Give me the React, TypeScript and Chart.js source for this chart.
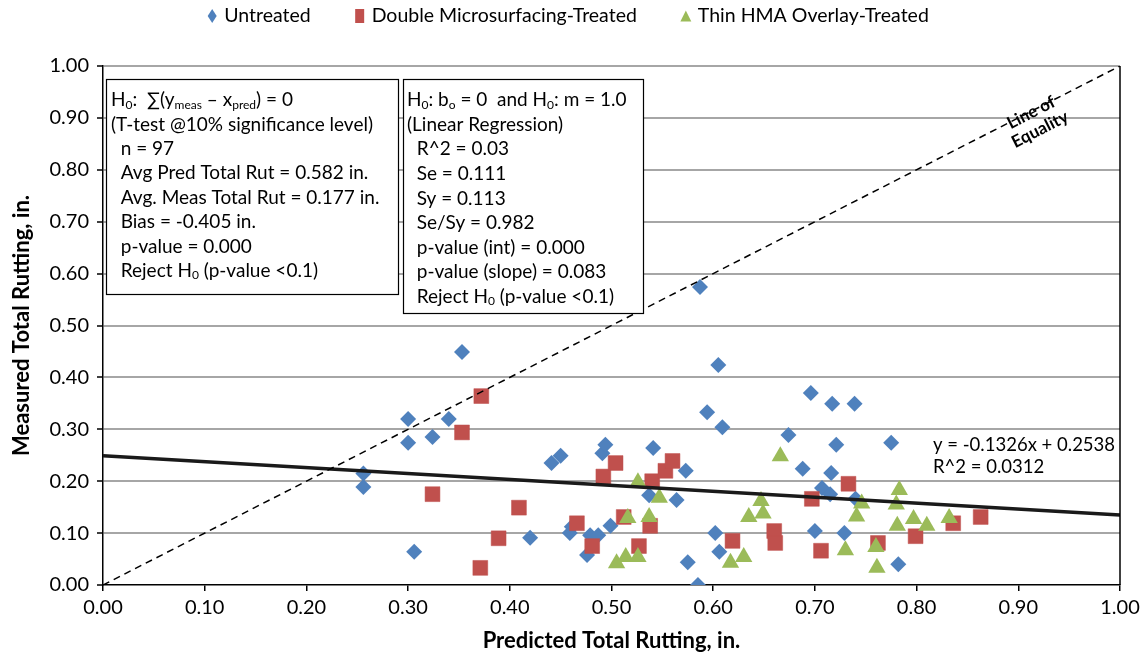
import { useEffect, useRef } from 'react';
import { Chart, registerables } from 'chart.js';

Chart.register(...registerables);

// ---------------- DATA ----------------
const SERIES_NAMES = ['Untreated', 'Double Microsurfacing-Treated', 'Thin HMA Overlay-Treated'];

// [predicted, measured]
const untreatedPts: [number, number][] = [
  [0.256, 0.215], [0.256, 0.189], [0.300, 0.274], [0.300, 0.320], [0.306, 0.064],
  [0.324, 0.285], [0.340, 0.320], [0.353, 0.449], [0.420, 0.091], [0.441, 0.235],
  [0.450, 0.249], [0.459, 0.100], [0.461, 0.112], [0.476, 0.058], [0.479, 0.096],
  [0.487, 0.096], [0.491, 0.254], [0.494, 0.270], [0.499, 0.114], [0.537, 0.173],
  [0.541, 0.264], [0.564, 0.164], [0.573, 0.220], [0.575, 0.044], [0.585, 0.000],
  [0.587, 0.574], [0.594, 0.333], [0.602, 0.100], [0.605, 0.424], [0.606, 0.064],
  [0.609, 0.304], [0.674, 0.289], [0.688, 0.224], [0.696, 0.370], [0.700, 0.104],
  [0.707, 0.187], [0.715, 0.175], [0.716, 0.216], [0.717, 0.349], [0.721, 0.270],
  [0.729, 0.100], [0.739, 0.349], [0.740, 0.166], [0.775, 0.274], [0.782, 0.040],
];

const microPts: [number, number][] = [
  [0.324, 0.175], [0.353, 0.294], [0.371, 0.033], [0.372, 0.364], [0.389, 0.090],
  [0.409, 0.149], [0.466, 0.119], [0.481, 0.075], [0.492, 0.209], [0.504, 0.235],
  [0.512, 0.131], [0.527, 0.075], [0.538, 0.114], [0.540, 0.200], [0.553, 0.220],
  [0.560, 0.239], [0.619, 0.085], [0.660, 0.104], [0.661, 0.081], [0.697, 0.166],
  [0.706, 0.066], [0.733, 0.195], [0.762, 0.081], [0.799, 0.094], [0.836, 0.119],
  [0.863, 0.131],
];

const hmaPts: [number, number][] = [
  [0.505, 0.042], [0.514, 0.054], [0.516, 0.129], [0.526, 0.054], [0.526, 0.198],
  [0.537, 0.131], [0.547, 0.168], [0.617, 0.043], [0.630, 0.054], [0.635, 0.131],
  [0.647, 0.162], [0.649, 0.138], [0.666, 0.248], [0.730, 0.067], [0.741, 0.132],
  [0.746, 0.157], [0.760, 0.073], [0.761, 0.033], [0.781, 0.114], [0.780, 0.155],
  [0.783, 0.183], [0.797, 0.127], [0.810, 0.114], [0.832, 0.129],
];

// trend line as drawn in the picture (end points at x = 0 and x = 1)
const TREND_LINE: [number, number][] = [[0, 0.249], [1, 0.135]];
const EQUALITY_LINE: [number, number][] = [[0, 0], [1, 1]];

const X_TICK_LABELS = ['0.00', '0.10', '0.20', '0.30', '0.40', '0.50', '0.60', '0.70', '0.80', '0.90', '1.00'];
const Y_TICK_LABELS = ['0.00', '0.10', '0.20', '0.30', '0.40', '0.50', '0.60', '0.70', '0.80', '0.90', '1.00'];

const X_TITLE = 'Predicted Total Rutting, in.';
const Y_TITLE = 'Measured Total Rutting, in.';
const TREND_LABEL = ['y = -0.1326x + 0.2538', 'R^2 = 0.0312'];
const EQUALITY_LABEL = ['Line of', 'Equality'];

type Seg = { t: string; sub?: boolean };
const BOX1_LINES: Seg[][] = [
  [{ t: 'H' }, { t: '0', sub: true }, { t: ':  \u2211(y' }, { t: 'meas', sub: true }, { t: ' \u2013 x' }, { t: 'pred', sub: true }, { t: ') = 0' }],
  [{ t: '(T-test @10% significance level)' }],
  [{ t: '  n = 97' }],
  [{ t: '  Avg Pred Total Rut = 0.582 in.' }],
  [{ t: '  Avg. Meas Total Rut = 0.177 in.' }],
  [{ t: '  Bias = -0.405 in.' }],
  [{ t: '  p-value = 0.000' }],
  [{ t: '  Reject H' }, { t: '0', sub: true }, { t: ' (p-value <0.1)' }],
];
const BOX2_LINES: Seg[][] = [
  [{ t: 'H' }, { t: '0', sub: true }, { t: ': b' }, { t: 'o', sub: true }, { t: ' = 0  and H' }, { t: '0', sub: true }, { t: ': m = 1.0' }],
  [{ t: '(Linear Regression)' }],
  [{ t: '  R^2 = 0.03' }],
  [{ t: '  Se = 0.111' }],
  [{ t: '  Sy = 0.113' }],
  [{ t: '  Se/Sy = 0.982' }],
  [{ t: '  p-value (int) = 0.000' }],
  [{ t: '  p-value (slope) = 0.083' }],
  [{ t: '  Reject H' }, { t: '0', sub: true }, { t: ' (p-value <0.1)' }],
];

// ---------------- STYLE ----------------
const FONT = 'Lato, "Open Sans", sans-serif';
const BLUE = '#4F81BD';
const RED = '#C0504D';
const GREEN = '#9BBB59';
const TEXT_SIZE = 19;

function drawRich(ctx: CanvasRenderingContext2D, segs: Seg[], x: number, y: number, size: number) {
  let cx = x;
  ctx.textBaseline = 'middle';
  ctx.textAlign = 'left';
  for (const s of segs) {
    const fs = s.sub ? Math.round(size * 0.62) : size;
    ctx.font = `${fs}px ${FONT}`;
    ctx.fillText(s.t, cx, s.sub ? y + size * 0.25 : y);
    cx += ctx.measureText(s.t).width;
  }
}

function drawBox(ctx: CanvasRenderingContext2D, x0: number, y0: number, x1: number, y1: number, lines: Seg[][], firstY: number, step: number, textX: number, size: number) {
  ctx.save();
  ctx.fillStyle = '#fff';
  ctx.fillRect(x0, y0, x1 - x0, y1 - y0);
  ctx.strokeStyle = '#000';
  ctx.lineWidth = 1.2;
  ctx.strokeRect(x0 + 0.5, y0 + 0.5, x1 - x0, y1 - y0);
  ctx.fillStyle = '#000';
  lines.forEach((segs, i) => drawRich(ctx, segs, textX, firstY + i * step, size));
  ctx.restore();
}

const annotationPlugin = {
  id: 'annotations',
  afterDraw(chart: any) {
    const { ctx, chartArea, scales } = chart;
    const xs = scales.x;
    const ys = scales.y;
    ctx.save();
    // plot frame right side
    ctx.strokeStyle = '#000';
    ctx.lineWidth = 1.5;
    ctx.beginPath();
    ctx.moveTo(chartArea.right, chartArea.top);
    ctx.lineTo(chartArea.right, chartArea.bottom);
    ctx.stroke();

    // text boxes
    drawBox(ctx, 106, 79, 398, 294, BOX1_LINES, 100, 24.4, 111, TEXT_SIZE);
    drawBox(ctx, 403, 79, 643, 313, BOX2_LINES, 100, 24.6, 407, TEXT_SIZE);

    // trend label
    ctx.fillStyle = '#000';
    ctx.font = `18.5px ${FONT}`;
    ctx.textAlign = 'left';
    ctx.textBaseline = 'middle';
    ctx.fillText(TREND_LABEL[0], 933, 445);
    ctx.fillText(TREND_LABEL[1], 933, 467);

    // line of equality label
    const px = xs.getPixelForValue(0.917);
    const py = ys.getPixelForValue(0.894);
    const ang = Math.atan2(ys.getPixelForValue(1) - ys.getPixelForValue(0), xs.getPixelForValue(1) - xs.getPixelForValue(0));
    ctx.save();
    ctx.translate(px, py);
    ctx.rotate(ang);
    ctx.font = `bold 17px ${FONT}`;
    ctx.textAlign = 'center';
    ctx.fillText(EQUALITY_LABEL[0], 0, -9.5);
    ctx.fillText(EQUALITY_LABEL[1], 0, 9.5);
    ctx.restore();

    // axis titles
    ctx.font = `bold 22px ${FONT}`;
    ctx.textAlign = 'center';
    ctx.fillText(X_TITLE, (chartArea.left + chartArea.right) / 2, 641);
    ctx.save();
    ctx.translate(22, (chartArea.top + chartArea.bottom) / 2);
    ctx.rotate(-Math.PI / 2);
    ctx.fillText(Y_TITLE, 0, 0);
    ctx.restore();

    // legend
    ctx.font = `19.5px ${FONT}`;
    const markerW = 10;
    const gapMT = 7;
    const gapItems = 44;
    const widths = SERIES_NAMES.map((n) => ctx.measureText(n).width);
    const total = widths.reduce((a, b) => a + b, 0) + SERIES_NAMES.length * (markerW + gapMT) + gapItems * (SERIES_NAMES.length - 1);
    let lx = 568 - total / 2;
    const ly = 16;
    const colors = [BLUE, RED, GREEN];
    SERIES_NAMES.forEach((n, i) => {
      const cx = lx + markerW / 2;
      ctx.fillStyle = colors[i];
      ctx.beginPath();
      if (i === 0) {
        ctx.moveTo(cx, ly - 7);
        ctx.lineTo(cx + 4.5, ly);
        ctx.lineTo(cx, ly + 7);
        ctx.lineTo(cx - 4.5, ly);
      } else if (i === 1) {
        ctx.rect(cx - 4.5, ly - 7, 9, 14);
      } else {
        ctx.moveTo(cx, ly - 5.5);
        ctx.lineTo(cx + 5.5, ly + 5.5);
        ctx.lineTo(cx - 5.5, ly + 5.5);
      }
      ctx.closePath();
      ctx.fill();
      ctx.fillStyle = '#000';
      ctx.textAlign = 'left';
      ctx.fillText(n, lx + markerW + gapMT, ly);
      lx += markerW + gapMT + widths[i] + gapItems;
    });
    ctx.restore();
  },
};

export default function App() {
  const ref = useRef<HTMLCanvasElement | null>(null);
  useEffect(() => {
    if (!ref.current) return;
    const toXY = (a: [number, number][]) => a.map(([x, y]) => ({ x, y }));
    const chart = new Chart(ref.current, {
      type: 'scatter',
      data: {
        datasets: [
          {
            type: 'line', label: 'Line of Equality', data: toXY(EQUALITY_LINE) as any,
            borderColor: '#000', borderWidth: 1.5, borderDash: [7, 5], pointRadius: 0, order: 0,
          } as any,
          {
            type: 'line', label: 'Trend', data: toXY(TREND_LINE) as any,
            borderColor: '#1a1a1a', borderWidth: 3.5, pointRadius: 0, order: 0,
          } as any,
          {
            label: SERIES_NAMES[0], data: toXY(untreatedPts), pointStyle: 'rectRot', pointRadius: 8,
            backgroundColor: BLUE, borderColor: BLUE, borderWidth: 0, order: 3,
          },
          {
            label: SERIES_NAMES[1], data: toXY(microPts), pointStyle: 'rect', pointRadius: 10.5,
            backgroundColor: RED, borderColor: 'rgba(192,80,77,0.5)', borderWidth: 1, order: 2,
          },
          {
            label: SERIES_NAMES[2], data: toXY(hmaPts), pointStyle: 'triangle', pointRadius: 10,
            backgroundColor: GREEN, borderColor: GREEN, borderWidth: 0, order: 1,
          },
        ],
      },
      options: {
        animation: false,
        responsive: false,
        layout: { padding: { top: 66, right: 26, left: 0, bottom: 0 } },
        plugins: { legend: { display: false }, tooltip: { enabled: false } },
        scales: {
          x: {
            type: 'linear', min: 0, max: 1,
            afterFit: (s: any) => { s.height = 73; },
            ticks: {
              stepSize: 0.1, autoSkip: false, maxRotation: 0, color: '#000', padding: 5,
              font: { family: FONT, size: 20 },
              callback: (_v: any, i: number) => X_TICK_LABELS[i],
            },
            grid: { drawOnChartArea: false, drawTicks: true, tickLength: 6, color: '#000', lineWidth: 1.5 },
            border: { color: '#000', width: 1.5 },
          },
          y: {
            type: 'linear', min: 0, max: 1,
            afterFit: (s: any) => { s.width = 103; },
            ticks: {
              stepSize: 0.1, autoSkip: false, color: '#000', padding: 8,
              font: { family: FONT, size: 20 },
              callback: (_v: any, i: number) => Y_TICK_LABELS[i],
            },
            grid: {
              color: (c: any) => (c.tick && c.tick.value === 0 ? 'rgba(0,0,0,0)' : '#a6a6a6'),
              lineWidth: 2, drawTicks: true, tickLength: 6, tickColor: '#000', tickWidth: 1.5,
            },
            border: { color: '#000', width: 1.5 },
          },
        },
      },
      plugins: [annotationPlugin],
    });
    return () => chart.destroy();
  }, []);
  return (
    <div style={{ position: 'fixed', left: 0, top: 0, width: 1146, height: 658, background: '#fff' }}>
      <canvas ref={ref} width={1146} height={658} />
    </div>
  );
}
